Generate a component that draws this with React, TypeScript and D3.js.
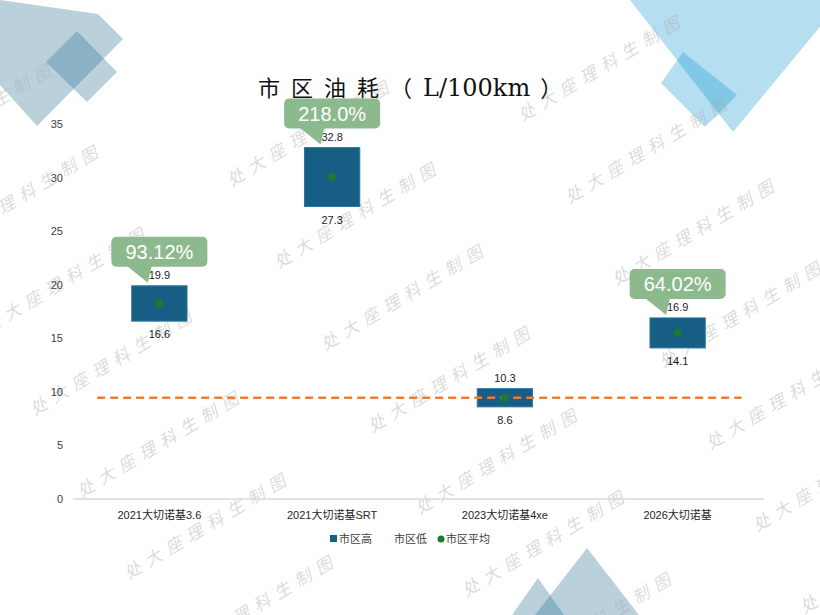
import React from "react";
import * as d3 from "d3";

const categories = ["2021大切诺基3.6", "2021大切诺基SRT", "2023大切诺基4xe", "2026大切诺基"];
const highValues = [19.9, 32.8, 10.3, 16.9];
const lowValues = [16.6, 27.3, 8.6, 14.1];
const avgValues = [18.25, 30.05, 9.45, 15.5];
const refValue = 9.45;
const callouts = ["93.12%", "218.0%", "", "64.02%"];
const yTicks = [0, 5, 10, 15, 20, 25, 30, 35];
const legendLabels = ["市区高", "市区低", "市区平均"];
const watermarkText = "处大座理科生制图";

const W = 820;
const H = 615;
const FONT = "'Liberation Sans', 'Noto Sans CJK SC', sans-serif";
const CJK = "'Noto Sans CJK SC', sans-serif";

export default function App() {
  const y = d3.scaleLinear().domain([0, 35]).range([499, 124]);
  const x = d3
    .scaleBand<string>()
    .domain(categories)
    .range([73, 764])
    .paddingInner(0.68)
    .paddingOuter(0.34);
  const bw = x.bandwidth();
  const step = x.step();
  const cx = (c: string) => (x(c) as number) + bw / 2;

  const wm: { ex: number; ey: number }[] = [];
  for (let i = -1; i <= 2; i++) {
    for (let j = -3; j <= 8; j++) {
      const ex = 105 + i * 338 + j * 47;
      const ey = 153 + i * 17 + j * 82;
      if (ex > 20 && ey > 20 && ex - 170 < W && ey - 100 < H) wm.push({ ex, ey });
    }
  }

  const deco = "#2e7295";
  const sky = "#0091cb";

  return (
    <div style={{ position: "absolute", left: 0, top: 0 }}>
      <svg width={W} height={H} style={{ display: "block", background: "#fff" }}>
        {/* decorations */}
        <g fill={deco} fillOpacity={0.33}>
          <polygon points="0,0 98,14 123,39 37,126 0,85" />
          <polygon points="77,31 117,72 87,102 46,62" />
          <polygon points="587,548 535,615 639,615" />
          <polygon points="538,578 512,615 564,615" />
        </g>
        <g fill={sky} fillOpacity={0.29}>
          <polygon points="630,0 842,0 733,132" />
          <polygon points="683,52 737,95 705,127 661,83" />
        </g>

        {/* watermark */}
        <g fill="#a8a8a8" fillOpacity={0.42} fontFamily={CJK} fontSize={17} fontStyle="italic">
          {wm.map((p, k) => (
            <text
              key={k}
              x={p.ex}
              y={p.ey}
              textAnchor="end"
              letterSpacing={7}
              transform={`rotate(-31 ${p.ex} ${p.ey})`}
            >
              {watermarkText}
            </text>
          ))}
        </g>

        {/* title */}
        <text x={258} y={96} fill="#111" fontFamily={CJK} fontSize={22}>
          <tspan letterSpacing={11}>市区油耗（</tspan>
          <tspan fontFamily="'DejaVu Serif', serif" fontSize={24} dx={0}>L/100km</tspan>
          <tspan dx={10}>）</tspan>
        </text>

        {/* y tick labels */}
        <g fontFamily={FONT} fontSize={11} fill="#404040" textAnchor="end">
          {yTicks.map((t) => (
            <text key={t} x={63} y={y(t) + 4}>
              {t}
            </text>
          ))}
        </g>

        {/* x axis */}
        <line x1={73} x2={764} y1={y(0)} y2={y(0)} stroke="#d9d9d9" strokeWidth={1.5} />
        <g fontFamily={FONT} fontSize={11} fill="#262626" textAnchor="middle">
          {categories.map((c) => (
            <text key={c} x={cx(c)} y={519}>
              {c}
            </text>
          ))}
        </g>

        {/* bars */}
        {categories.map((c, i) => (
          <rect
            key={c}
            x={x(c)}
            y={y(highValues[i])}
            width={bw}
            height={y(lowValues[i]) - y(highValues[i])}
            fill="#165e83"
            stroke="#2a78a0"
            strokeWidth={1}
          />
        ))}

        {/* reference line */}
        <line
          x1={cx(categories[0]) - step * 0.36}
          x2={cx(categories[3]) + step * 0.37}
          y1={y(refValue)}
          y2={y(refValue)}
          stroke="#ed7d31"
          strokeWidth={2.5}
          strokeDasharray="8 5"
        />

        {/* averages */}
        {categories.map((c, i) => (
          <circle key={c} cx={cx(c)} cy={y(avgValues[i])} r={4} fill="#1e7a2e" />
        ))}

        {/* data labels */}
        <g fontFamily={FONT} fontSize={11} fill="#1a1a1a" textAnchor="middle">
          {categories.map((c, i) => (
            <g key={c}>
              <text x={cx(c)} y={y(highValues[i]) - 7}>
                {highValues[i].toFixed(1)}
              </text>
              <text x={cx(c)} y={y(lowValues[i]) + 17}>
                {lowValues[i].toFixed(1)}
              </text>
            </g>
          ))}
        </g>

        {/* callouts */}
        {categories.map((c, i) => {
          if (!callouts[i]) return null;
          const top = y(highValues[i]);
          const bwc = 96;
          const bh = 30;
          const bx = cx(c) - bwc / 2;
          const by = top - 49;
          const tipY = top - 3;
          return (
            <g key={c}>
              <rect x={bx} y={by} width={bwc} height={bh} rx={5} fill="#8db98e" />
              <polygon
                points={`${bx + bwc * 0.16},${by + bh - 1} ${bx + bwc * 0.42},${by + bh - 1} ${bx + bwc * 0.38},${tipY}`}
                fill="#8db98e"
              />
              <text
                x={bx + bwc / 2}
                y={by + 22}
                textAnchor="middle"
                fontFamily={FONT}
                fontSize={20}
                fill="#fff"
              >
                {callouts[i]}
              </text>
            </g>
          );
        })}

        {/* legend */}
        <g fontFamily={FONT} fontSize={11} fill="#404040">
          <rect x={330} y={535} width={7} height={7} fill="#165e83" />
          <text x={339} y={543}>{legendLabels[0]}</text>
          <text x={394} y={543}>{legendLabels[1]}</text>
          <circle cx={441} cy={539} r={3.5} fill="#1e7a2e" />
          <text x={446} y={543}>{legendLabels[2]}</text>
        </g>
      </svg>
    </div>
  );
}
